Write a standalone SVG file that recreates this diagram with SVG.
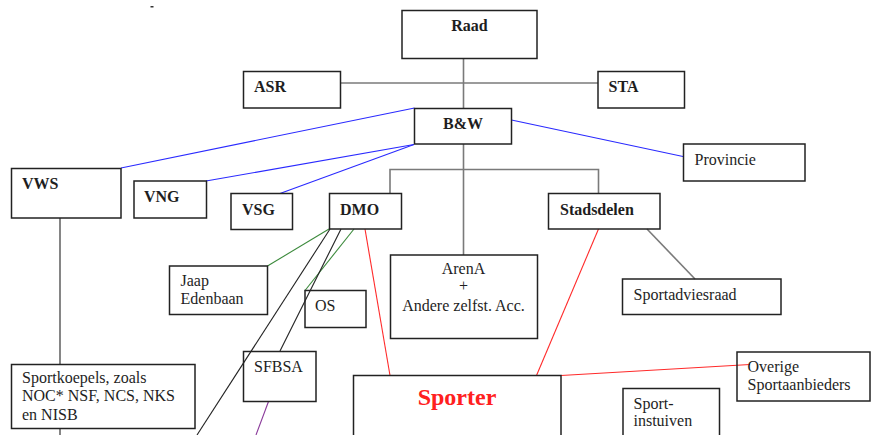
<svg xmlns="http://www.w3.org/2000/svg" width="871" height="435" viewBox="0 0 871 435">
  <style>
    .box { fill: none; stroke: #222; stroke-width: 1.5; }
    .t { font-family: "Liberation Serif", "Times New Roman", serif; font-size: 16px; fill: #1e1e1e; }
    .b { font-weight: bold; }
    .c { text-anchor: middle; }
    .gray { stroke: #7a7a7a; stroke-width: 1.6; fill: none; }
    .blue { stroke: #2a2aff; stroke-width: 1.1; fill: none; }
    .green { stroke: #3c8a3c; stroke-width: 1.1; fill: none; }
    .black { stroke: #222; stroke-width: 1.1; fill: none; }
    .red { stroke: #ff2a2a; stroke-width: 1.1; fill: none; }
    .purple { stroke: #8a3a9a; stroke-width: 1.1; fill: none; }
  </style>

  <rect width="871" height="435" fill="#fff"/>
  <rect x="150.5" y="6" width="3" height="1.5" fill="#333"/>

  <!-- connectors -->
  <g id="connectors">
    <!-- hierarchy (gray) -->
    <line class="gray" x1="463.5" y1="59" x2="463.5" y2="108"/>
    <line class="gray" x1="341" y1="83" x2="598" y2="83"/>
    <line class="gray" x1="463.5" y1="144" x2="463.5" y2="255"/>
    <polyline class="gray" points="390,193 390,169.5 598.5,169.5 598.5,193"/>
    <line class="gray" x1="647" y1="229" x2="695" y2="279"/>
    <!-- external relations (blue) -->
    <line class="blue" x1="121" y1="168" x2="414.5" y2="108"/>
    <line class="blue" x1="206" y1="181" x2="414" y2="144.5"/>
    <line class="blue" x1="280" y1="193.5" x2="414" y2="144.5"/>
    <line class="blue" x1="511.5" y1="120" x2="683" y2="156.5"/>
    <!-- DMO links -->
    <line class="green" x1="267.5" y1="266" x2="329" y2="229"/>
    <line class="green" x1="305" y1="290.5" x2="354" y2="229"/>
    <line class="black" x1="330" y1="229" x2="197" y2="435"/>
    <line class="black" x1="341" y1="229" x2="280" y2="351"/>
    <line class="red" x1="365" y1="229" x2="390" y2="375.5"/>
    <!-- Sporter links -->
    <line class="red" x1="598.5" y1="229" x2="536.5" y2="375.5"/>
    <line class="red" x1="561" y1="375.5" x2="750" y2="364.5"/>
    <!-- VWS to sport umbrella bodies -->
    <line class="black" x1="60" y1="218" x2="60" y2="364.5"/>
    <line class="black" x1="60" y1="428.5" x2="60" y2="435"/>
    <line class="purple" x1="268.5" y1="401.5" x2="256" y2="435"/>
  </g>

  <!-- nodes -->
  <g id="raad">
    <rect class="box" x="402" y="10.5" width="135" height="48"/>
    <text class="t b c" x="469.5" y="31">Raad</text>
  </g>
  <g id="asr">
    <rect class="box" x="243.5" y="71.5" width="97" height="36.5"/>
    <text class="t b" x="254" y="92">ASR</text>
  </g>
  <g id="sta">
    <rect class="box" x="598" y="71.5" width="86.5" height="36.5"/>
    <text class="t b" x="608.5" y="92">STA</text>
  </g>
  <g id="bw">
    <rect class="box" x="414.5" y="108.5" width="97" height="35.5"/>
    <text class="t b c" x="463" y="129">B&amp;W</text>
  </g>
  <g id="provincie">
    <rect class="box" x="683.5" y="144" width="121.5" height="37"/>
    <text class="t" x="694.5" y="164.5">Provincie</text>
  </g>
  <g id="vws">
    <rect class="box" x="11.5" y="168.5" width="109.5" height="49.5"/>
    <text class="t b" x="22" y="188.5">VWS</text>
  </g>
  <g id="vng">
    <rect class="box" x="134" y="181" width="72.5" height="37"/>
    <text class="t b" x="144" y="202">VNG</text>
  </g>
  <g id="vsg">
    <rect class="box" x="231" y="193.5" width="61.5" height="36"/>
    <text class="t b" x="242" y="214.5">VSG</text>
  </g>
  <g id="dmo">
    <rect class="box" x="329.5" y="193.5" width="72" height="35.5"/>
    <text class="t b" x="340" y="214.5">DMO</text>
  </g>
  <g id="stadsdelen">
    <rect class="box" x="548.5" y="193.5" width="111.5" height="35.5"/>
    <text class="t b" x="560" y="214.5">Stadsdelen</text>
  </g>
  <g id="arena">
    <rect class="box" x="390.5" y="255" width="147" height="83.5"/>
    <text class="t c" x="463.5" y="273.5">ArenA</text>
    <text class="t c" x="463.5" y="291">+</text>
    <text class="t c" x="463.5" y="311">Andere zelfst. Acc.</text>
  </g>
  <g id="sportadviesraad">
    <rect class="box" x="622.5" y="279" width="158.5" height="35.5"/>
    <text class="t" x="633.5" y="299.5">Sportadviesraad</text>
  </g>
  <g id="jaap-edenbaan">
    <rect class="box" x="169.5" y="266" width="98" height="48.5"/>
    <text class="t" x="180.5" y="286">Jaap</text>
    <text class="t" x="180.5" y="304">Edenbaan</text>
  </g>
  <g id="os">
    <rect class="box" x="305" y="290.5" width="61" height="37"/>
    <text class="t" x="315" y="310.5">OS</text>
  </g>
  <g id="sfbsa">
    <rect class="box" x="243.5" y="351.5" width="72.5" height="50"/>
    <text class="t" x="254" y="372">SFBSA</text>
  </g>
  <g id="sportkoepels">
    <rect class="box" x="11.5" y="364.5" width="183.5" height="64"/>
    <text class="t" x="22" y="383">Sportkoepels, zoals</text>
    <text class="t" x="22" y="401">NOC* NSF, NCS, NKS</text>
    <text class="t" x="22" y="419.5">en NISB</text>
  </g>
  <g id="sporter">
    <rect class="box" x="353.5" y="375.5" width="207.5" height="70"/>
    <text class="t b c" x="457" y="405" style="font-size:24px; fill:#ff2020">Sporter</text>
  </g>
  <g id="sportinstuiven">
    <rect class="box" x="623" y="388.5" width="96.5" height="60"/>
    <text class="t" x="633.5" y="408.5">Sport-</text>
    <text class="t" x="633.5" y="426">instuiven</text>
  </g>
  <g id="overige">
    <rect class="box" x="737" y="352" width="133" height="49"/>
    <text class="t" x="747.5" y="372">Overige</text>
    <text class="t" x="747.5" y="389.5">Sportaanbieders</text>
  </g>
</svg>
